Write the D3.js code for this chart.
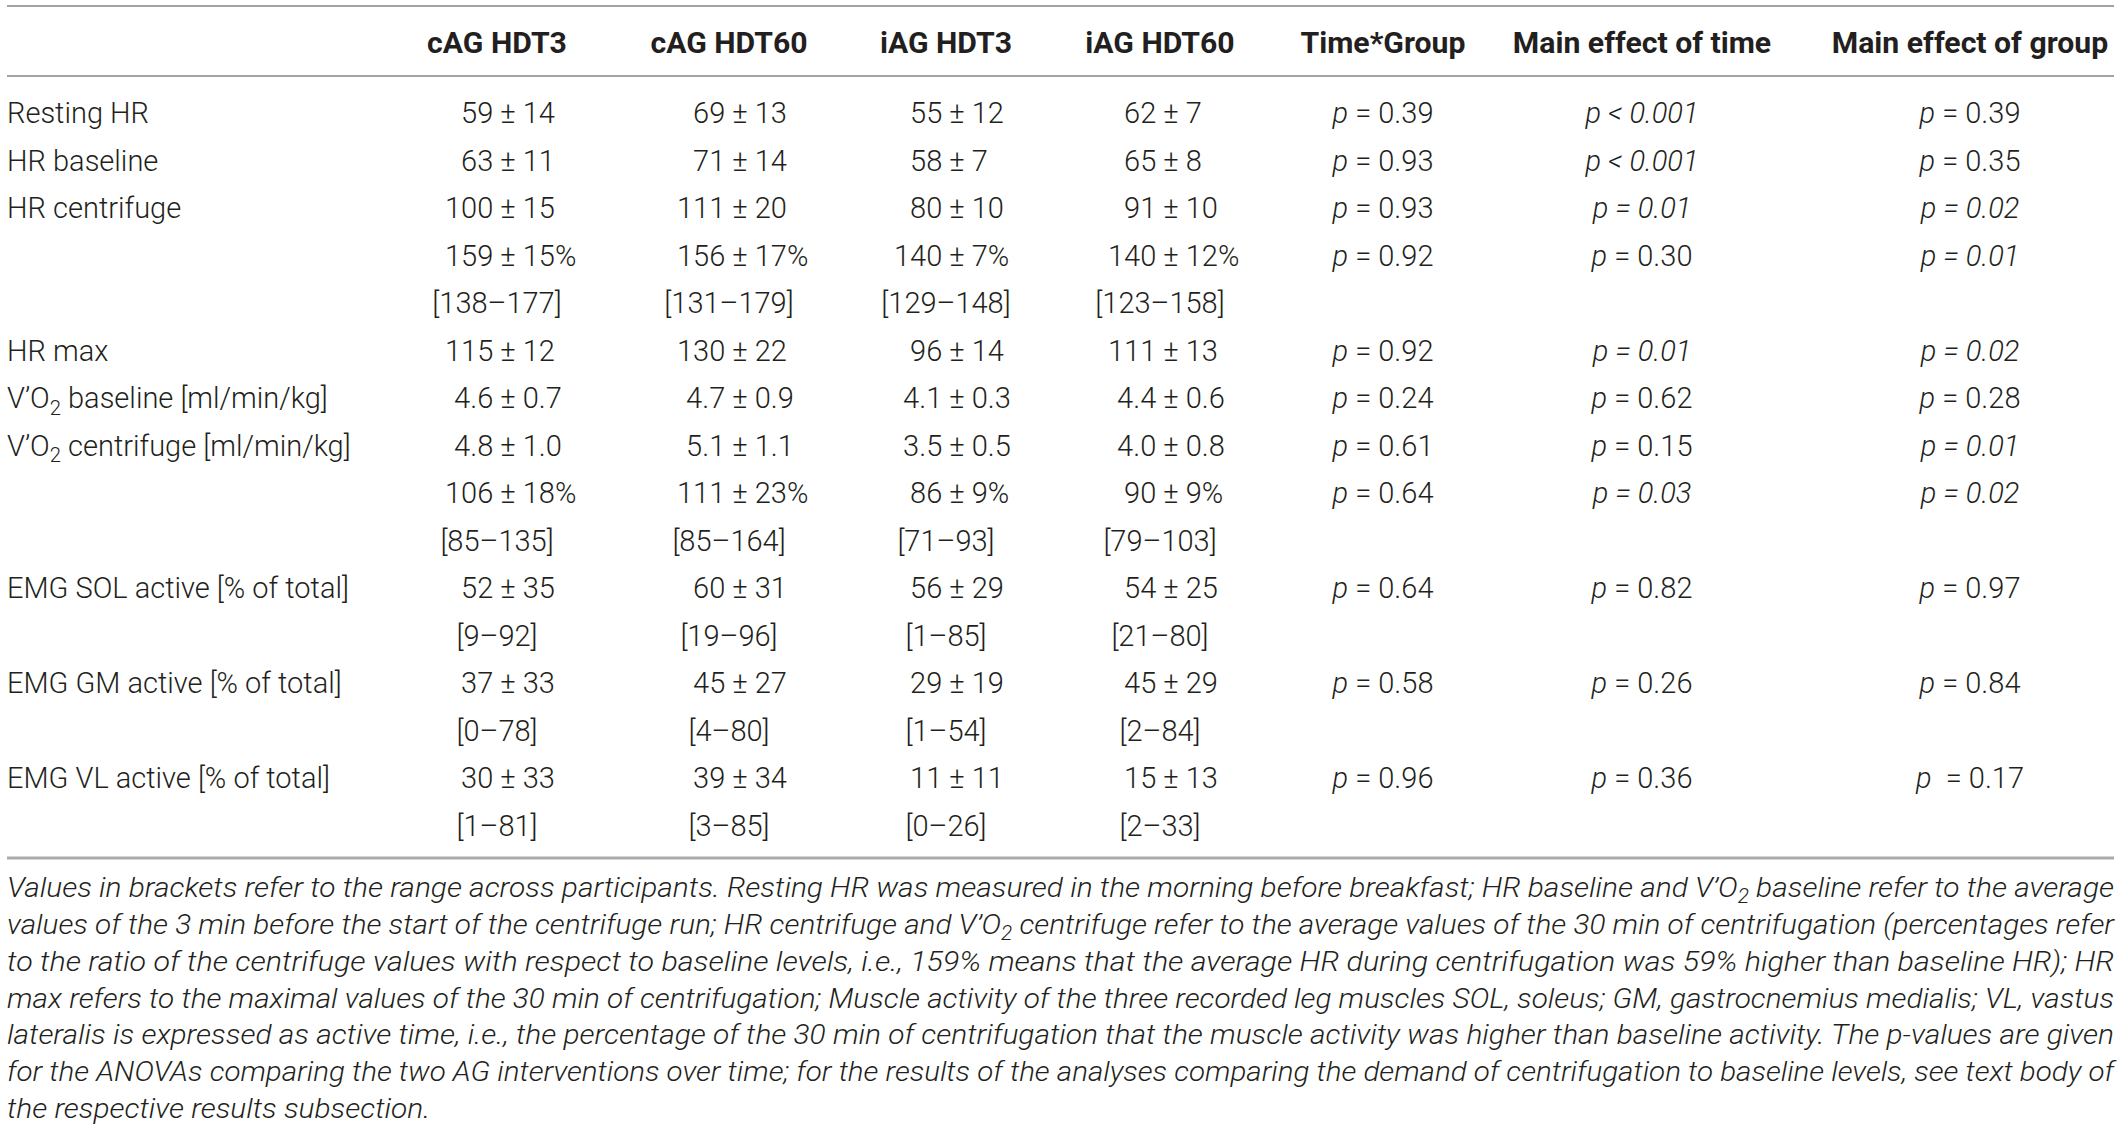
<!DOCTYPE html>
<html>
<head>
<meta charset="utf-8">
<script src="https://cdn.jsdelivr.net/npm/d3@7"></script>
<style>
  body { margin: 0; background: #fff; }
  svg { display: block; }
  text { font-family: Roboto, "Liberation Sans", sans-serif; white-space: pre; }
</style>
</head>
<body>
<svg id="chart" width="2121" height="1130"></svg>
<script>
// table content
const columns = ["cAG HDT3", "cAG HDT60", "iAG HDT3", "iAG HDT60", "Time*Group", "Main effect of time", "Main effect of group"];

const rowLabels = ["Resting HR", "HR baseline", "HR centrifuge", "", "", "HR max",
  "V’O2 baseline [ml/min/kg]", "V’O2 centrifuge [ml/min/kg]", "", "",
  "EMG SOL active [% of total]", "", "EMG GM active [% of total]", "", "EMG VL active [% of total]", ""];

const cagHdt3 = ["59 ± 14", "63 ± 11", "100 ± 15", "159 ± 15%", "[138–177]", "115 ± 12", "4.6 ± 0.7", "4.8 ± 1.0",
  "106 ± 18%", "[85–135]", "52 ± 35", "[9–92]", "37 ± 33", "[0–78]", "30 ± 33", "[1–81]"];
const cagHdt60 = ["69 ± 13", "71 ± 14", "111 ± 20", "156 ± 17%", "[131–179]", "130 ± 22", "4.7 ± 0.9", "5.1 ± 1.1",
  "111 ± 23%", "[85–164]", "60 ± 31", "[19–96]", "45 ± 27", "[4–80]", "39 ± 34", "[3–85]"];
const iagHdt3 = ["55 ± 12", "58 ± 7", "80 ± 10", "140 ± 7%", "[129–148]", "96 ± 14", "4.1 ± 0.3", "3.5 ± 0.5",
  "86 ± 9%", "[71–93]", "56 ± 29", "[1–85]", "29 ± 19", "[1–54]", "11 ± 11", "[0–26]"];
const iagHdt60 = ["62 ± 7", "65 ± 8", "91 ± 10", "140 ± 12%", "[123–158]", "111 ± 13", "4.4 ± 0.6", "4.0 ± 0.8",
  "90 ± 9%", "[79–103]", "54 ± 25", "[21–80]", "45 ± 29", "[2–84]", "15 ± 13", "[2–33]"];

const timeGroup = ["p = 0.39", "p = 0.93", "p = 0.93", "p = 0.92", "", "p = 0.92", "p = 0.24", "p = 0.61",
  "p = 0.64", "", "p = 0.64", "", "p = 0.58", "", "p = 0.96", ""];
const timeEffect = ["p < 0.001", "p < 0.001", "p = 0.01", "p = 0.30", "", "p = 0.01", "p = 0.62", "p = 0.15",
  "p = 0.03", "", "p = 0.82", "", "p = 0.26", "", "p = 0.36", ""];
const groupEffect = ["p = 0.39", "p = 0.35", "p = 0.02", "p = 0.01", "", "p = 0.02", "p = 0.28", "p = 0.01",
  "p = 0.02", "", "p = 0.97", "", "p = 0.84", "", "p  = 0.17", ""];

// significant values are set fully in italics
const timeGroupSig = [0, 0, 0, 0, 0, 0, 0, 0, 0, 0, 0, 0, 0, 0, 0, 0];
const timeEffectSig = [1, 1, 1, 0, 0, 1, 0, 0, 1, 0, 0, 0, 0, 0, 0, 0];
const groupEffectSig = [0, 0, 1, 1, 0, 1, 0, 1, 1, 0, 0, 0, 0, 0, 0, 0];

const captionLines = [
  "Values in brackets refer to the range across participants. Resting HR was measured in the morning before breakfast; HR baseline and V’O2 baseline refer to the average",
  "values of the 3 min before the start of the centrifuge run; HR centrifuge and V’O2 centrifuge refer to the average values of the 30 min of centrifugation (percentages refer",
  "to the ratio of the centrifuge values with respect to baseline levels, i.e., 159% means that the average HR during centrifugation was 59% higher than baseline HR); HR",
  "max refers to the maximal values of the 30 min of centrifugation; Muscle activity of the three recorded leg muscles SOL, soleus; GM, gastrocnemius medialis; VL, vastus",
  "lateralis is expressed as active time, i.e., the percentage of the 30 min of centrifugation that the muscle activity was higher than baseline activity. The p-values are given",
  "for the ANOVAs comparing the two AG interventions over time; for the results of the analyses comparing the demand of centrifugation to baseline levels, see text body of",
  "the respective results subsection."
];

const valueCols = [cagHdt3, cagHdt60, iagHdt3, iagHdt60];
const pCols = [[timeGroup, timeGroupSig], [timeEffect, timeEffectSig], [groupEffect, groupEffectSig]];

const svg = d3.select("#chart");
const left = 7, right = 2114;
const bodySize = 29, headSize = 30.2, capSize = 28;
const ink = "#231f20";

const x = d3.scaleOrdinal().domain(columns).range([497, 729, 946, 1160, 1383, 1642, 1970]);
const y = d3.scaleBand().domain(d3.range(rowLabels.length)).range([89.3, 849.3]);
const rowY = i => y(i) + y.bandwidth() / 2;
const capY = d3.scaleLinear().domain([0, captionLines.length - 1]).range([887, 1108]);

// text with V'O2 subscripts
function addRich(t, str, fs) {
  str.split("V’O2").forEach((part, i) => {
    if (i > 0) {
      t.append("tspan").text("V’O");
      t.append("tspan").attr("font-size", fs * 0.7).attr("dy", fs * 0.22).text("2");
      t.append("tspan").attr("dy", -fs * 0.22).text(part);
    } else if (part) {
      t.append("tspan").text(part);
    }
  });
}

// rules
const rules = [[6, 2, "#a3a3a3"], [76, 2, "#a3a3a3"], [858, 3, "#ababab"]];
svg.selectAll("line.rule").data(rules).join("line")
  .attr("class", "rule")
  .attr("x1", left).attr("x2", right)
  .attr("y1", d => d[0]).attr("y2", d => d[0])
  .attr("stroke", d => d[2]).attr("stroke-width", d => d[1]);

// header
svg.append("g").selectAll("text").data(columns).join("text")
  .attr("x", d => x(d)).attr("y", 42).attr("dy", "0.36em")
  .attr("text-anchor", "middle")
  .attr("font-family", "'Liberation Sans', Arial, sans-serif")
  .attr("font-weight", 700).attr("font-size", headSize).attr("fill", ink)
  .text(d => d);

// row labels
const labels = svg.append("g").selectAll("text").data(rowLabels).join("text")
  .attr("x", left).attr("y", (d, i) => rowY(i)).attr("dy", "0.36em")
  .attr("font-size", bodySize).attr("font-weight", 300).attr("fill", ink);
labels.each(function (d) { addRich(d3.select(this), d, bodySize); });

// measure helper
const probe = svg.append("text").attr("font-size", bodySize).attr("font-weight", 300).attr("opacity", 0);
function measure(s) { probe.text(s); return probe.node().getComputedTextLength(); }
const pmW = measure("±"), spW = measure("a a") - measure("aa");

// mean +/- SD columns, aligned on the ± sign; ranges centred
valueCols.forEach((vals, c) => {
  const cx = x(columns[c]), pmX = cx + 11;
  const g = svg.append("g").attr("font-size", bodySize).attr("font-weight", 300).attr("fill", ink);
  vals.forEach((v, i) => {
    const t = g.append("text").attr("y", rowY(i)).attr("dy", "0.36em").text(v);
    if (v.includes(" ± ")) {
      const lhs = v.split(" ± ")[0];
      t.attr("x", pmX - pmW / 2 - spW - measure(lhs)).attr("text-anchor", "start");
    } else {
      t.attr("x", cx).attr("text-anchor", "middle");
    }
  });
});

// p-value columns
pCols.forEach(([vals, sig], c) => {
  const cx = x(columns[c + 4]);
  const g = svg.append("g").attr("font-size", bodySize).attr("font-weight", 300).attr("fill", ink);
  vals.forEach((v, i) => {
    if (!v) return;
    const t = g.append("text").attr("x", cx).attr("y", rowY(i)).attr("dy", "0.36em").attr("text-anchor", "middle");
    if (sig[i]) {
      t.attr("font-style", "italic").text(v);
    } else {
      t.append("tspan").attr("font-style", "italic").text(v.slice(0, 1));
      t.append("tspan").text(v.slice(1));
    }
  });
});

// caption, justified to the table width
const W = right - left;
const cap = svg.append("g").selectAll("text").data(captionLines).join("text")
  .attr("x", left).attr("y", (d, i) => capY(i)).attr("dy", "0.36em")
  .attr("font-size", capSize).attr("font-weight", 300).attr("font-style", "italic").attr("fill", ink);
cap.each(function (d) { addRich(d3.select(this), d, capSize); });
const natural = cap.nodes().map(n => n.getComputedTextLength());
const ratio = d3.mean(natural.slice(0, -1), n => W / n);
cap.attr("lengthAdjust", "spacingAndGlyphs")
  .attr("textLength", (d, i) => i < captionLines.length - 1 ? W : natural[i] * ratio);

probe.remove();
</script>
</body>
</html>
